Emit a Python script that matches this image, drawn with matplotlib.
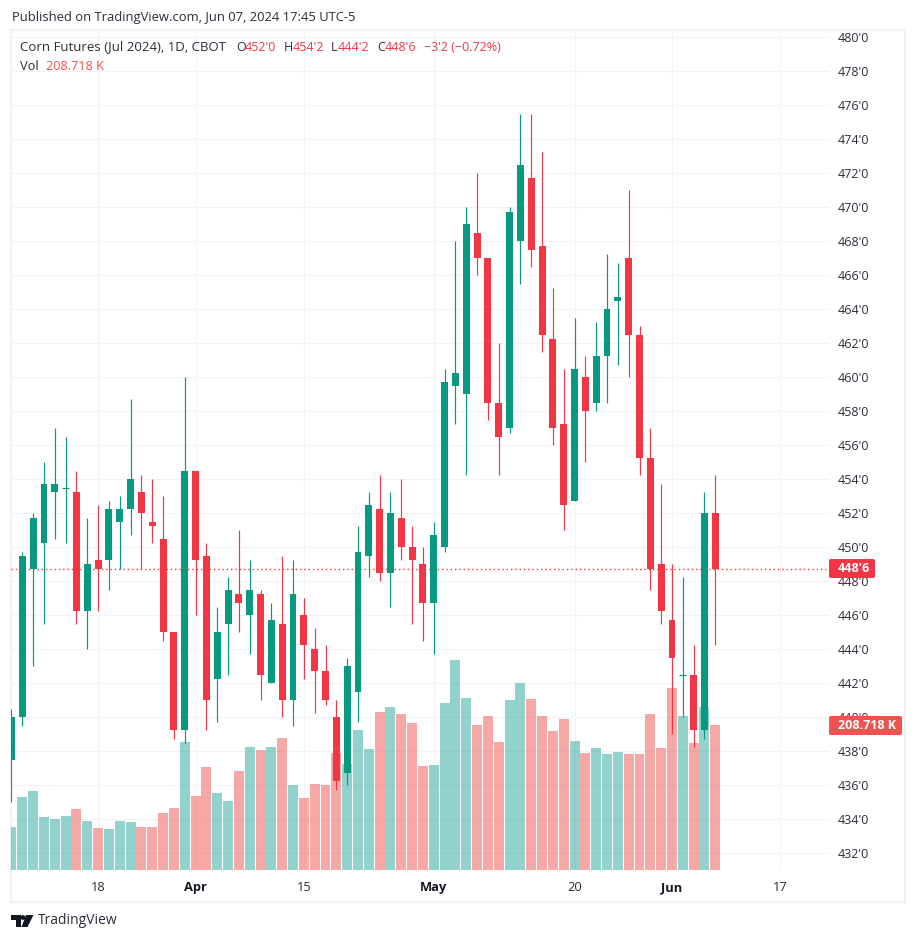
import matplotlib
matplotlib.use("Agg")
import matplotlib.pyplot as plt
from matplotlib.patches import FancyBboxPatch, Polygon, Circle, Rectangle

# Colors:
up_color = "#089981"
down_color = "#f23645"
vol_up = "#26a69a"
vol_down = "#ef5350"
grid_color = "#f3f3f5"
frame_color = "#f0f1f6"
text_color = "#2a2e39"

plt.rcParams["font.family"] = ["Open Sans", "DejaVu Sans"]

# Daily candles
opens = [437.5, 440, 448.75, 450.25, 453.25, 453.5, 453.25, 446.25, 449.25, 449.25, 451.5,
         452.25, 453.25, 451.5, 450.5, 445, 439.25, 454.5, 449.5, 442.25, 445.5, 447.25,
         446, 447.25, 442, 445.5, 441, 446, 444, 442.75, 440, 436.75, 441.5, 449.5,
         452.25, 448.5, 451.75, 450, 449, 446.75, 450, 459.5, 459, 468.5, 467, 458.5,
         457, 468, 471.75, 467.75, 462.25, 457.25, 452.75, 460, 458.5, 461.25, 464.5,
         467, 462.5, 455.25, 449, 445.75, 442.5, 442.5, 439.25, 452]
highs = [440.5, 449.75, 452, 455, 457, 456.5, 454.5, 451.75, 452.5, 452.75, 453,
         458.75, 454.25, 454, 453, 445, 460, 454.5, 450.25, 446.5, 448.25, 451,
         449.25, 447.5, 446.75, 449.5, 449.25, 447, 445.25, 444.25, 441, 443.5, 451.25, 453.25,
         454.25, 453.25, 454, 451.25, 450, 451.5, 460.5, 468, 470, 472, 467, 462,
         470, 475.5, 475.5, 473.25, 465.25, 460.5, 463.5, 461.25, 463.25, 467.25, 466.75,
         471, 463, 457, 453.75, 449, 448.25, 444.25, 453.25, 454.25]
lows = [435, 439.5, 443, 445.5, 450.5, 450.25, 445.5, 444, 446.25, 447.5, 448.75,
        450.75, 448.75, 450.25, 444.5, 438.75, 438.5, 446, 439.25, 439.75, 442.5, 445,
        443.75, 441, 442, 440, 439.5, 442.25, 440.25, 440.75, 435.75, 436, 439.75, 448.25,
        448, 446.5, 449.25, 445.5, 444.5, 443.75, 449.75, 457.25, 454.25, 466, 457.5, 454.25,
        456.75, 465.5, 466.5, 461.5, 456, 451, 452.75, 455, 458, 458.5, 460.75,
        460, 454.25, 447.5, 445.5, 439, 440, 438.25, 438.75, 444.25]
closes = [440, 449.5, 451.75, 453.75, 453.75, 453.5, 446.25, 449, 448.75, 452.25, 452.25,
          454, 452, 451.25, 445, 439.25, 454.5, 449.25, 441, 445, 447.5, 446.75,
          447.5, 442.5, 445.75, 441, 447.25, 444.25, 442.75, 441, 436.25, 443, 449.75, 452.5,
          448.5, 452, 450, 449.25, 446.75, 450.75, 459.75, 460.25, 469, 467, 458.5, 456.5,
          469.75, 472.5, 467.5, 462.5, 457, 452.5, 460.5, 458, 461.25, 464, 464.75,
          462.5, 455.25, 448.75, 446.25, 443.5, 442.5, 439.25, 452, 448.75]
# Volume in thousands
volumes = [62, 105, 114, 76, 73, 78, 88, 71, 60, 59, 71, 69, 62, 62, 82, 89, 184, 107, 148, 111,
           99, 143, 177, 173, 177, 190, 122, 104, 124, 122, 168.5, 153, 202, 174, 228, 235,
           225, 212, 150, 151, 240, 302, 248, 209, 222, 184, 245, 269, 246, 222, 200, 217,
           186, 168, 176, 167, 170, 167, 167, 225, 176, 262, 222, 183, 235, 208.718]

price_ticks = list(range(432, 482, 2))
date_ticks = [8, 17, 27, 39, 52, 61, 71]
date_labels = ["18", "Apr", "15", "May", "20", "Jun", "17"]
month_labels = ["Apr", "May", "Jun"]
last_close = 448.75

W, H = 916, 941
fig = plt.figure(figsize=(W / 100, H / 100), dpi=100, facecolor="white")

# Frame goes under everything so the first clipped candle shows on it
fig.add_artist(Rectangle((11 / W, 1 - 902 / H), 894 / W, 872 / H, transform=fig.transFigure,
                         fill=False, edgecolor=frame_color, linewidth=1.5, zorder=-1))

# chart area in pixels: x 11..829, y 31..870
rect = [11 / W, 1 - 870 / H, 818 / W, 839 / H]
ax = fig.add_axes(rect)
ax.patch.set_visible(False)
x_range = (-0.046, 75.5)
y_range = (431.02, 480.37)
ax.set_xlim(x_range)
ax.set_ylim(y_range)
for s in ax.spines.values():
    s.set_visible(False)

ax.grid(True, color=grid_color, linewidth=0.8)
ax.set_axisbelow(True)
ax.yaxis.tick_right()
ax.set_yticks(price_ticks)
ax.set_yticklabels([f"{p}'0" for p in price_ticks], fontsize=9, color=text_color)
ax.set_xticks(date_ticks)
ax.set_xticklabels(date_labels, fontsize=9.3, color=text_color)
ax.tick_params(axis="both", length=0)
ax.tick_params(axis="y", pad=6.5)
ax.tick_params(axis="x", pad=8)
for lab in ax.get_xticklabels():
    if lab.get_text() in month_labels:
        lab.set_fontweight("bold")
        lab.set_color("#131722")

idx = list(range(len(opens)))
is_up = [c >= o for o, c in zip(opens, closes)]

# Volume bars sit over the grid, under the candles
ax_vol = fig.add_axes(rect, facecolor="none")
ax_vol.set_xlim(x_range)
ax_vol.set_ylim(0, 1208)
ax_vol.axis("off")
ax_vol.bar(idx, volumes, width=0.92, alpha=0.5,
           color=[vol_up if u else vol_down for u in is_up])

ax_c = fig.add_axes(rect, facecolor="none")
ax_c.set_xlim(x_range)
ax_c.set_ylim(y_range)
ax_c.axis("off")
ax_c.axhline(last_close, color=down_color, linewidth=1.0, linestyle=(0, (1, 2.1)), zorder=1)

colors = [up_color if u else down_color for u in is_up]
ax_c.vlines(idx, lows, highs, colors=colors, linewidth=0.85, zorder=2)
bottoms = [min(o, c) for o, c in zip(opens, closes)]
heights = [abs(c - o) for o, c in zip(opens, closes)]
ax_c.bar(idx, heights, bottom=bottoms, width=0.64, color=colors, zorder=3)
# dojis have no body, just a dash
for i in idx:
    if opens[i] == closes[i]:
        ax_c.hlines(opens[i], i - 0.32, i + 0.32, colors=colors[i], linewidth=0.85, zorder=3)

# Overlay in pixel coordinates for legend and labels
ov = fig.add_axes([0, 0, 1, 1], facecolor="none")
ov.set_xlim(0, W)
ov.set_ylim(H, 0)
ov.axis("off")

ov.text(12, 17, "Published on TradingView.com, Jun 07, 2024 17:45 UTC-5", fontsize=9.35,
        color=text_color, va="center")

ov.text(20, 47, "Corn Futures (Jul 2024), 1D, CBOT", fontsize=9.55, color=text_color, va="center")
legend_row = [(236, "O", text_color), (245, "452'0", down_color), (284, "H", text_color),
              (293, "454'2", down_color), (331, "L", text_color), (338, "444'2", down_color),
              (377, "C", text_color), (385, "448'6", down_color),
              (424, "\u22123'2 (\u22120.72%)", down_color)]
for x, s, c in legend_row:
    ov.text(x, 47, s, fontsize=9, color=c, va="center")
ov.text(20, 66, "Vol", fontsize=9.3, color=text_color, va="center")
ov.text(46, 66, "208.718 K", fontsize=9.1, color=vol_down, va="center")

# Last price and volume labels
ov.add_patch(FancyBboxPatch((829, 559), 46, 19, boxstyle="round,pad=0,rounding_size=2",
                            facecolor=down_color, edgecolor="none"))
ov.text(838, 568.5, "448'6", fontsize=9, color="white", va="center", fontweight="bold")
ov.add_patch(FancyBboxPatch((829, 716), 73, 19, boxstyle="round,pad=0,rounding_size=2",
                            facecolor=vol_down, edgecolor="none"))
ov.text(838, 725.5, "208.718 K", fontsize=9, color="white", va="center", fontweight="bold")

# TradingView logo
logo = "#131722"
ov.add_patch(Polygon([(11, 915), (20.5, 915), (20.5, 927), (15.5, 927), (15.5, 920), (11, 920)],
                     facecolor=logo, edgecolor="none"))
ov.add_patch(Circle((23, 917.5), 2.4, facecolor=logo, edgecolor="none"))
ov.add_patch(Polygon([(26, 915), (33.5, 915), (27.5, 927), (21.5, 927)],
                     facecolor=logo, edgecolor="none"))
ov.text(38, 921, "TradingView", fontsize=10, color=text_color, va="center")

fig.savefig("out.png", dpi=100)
